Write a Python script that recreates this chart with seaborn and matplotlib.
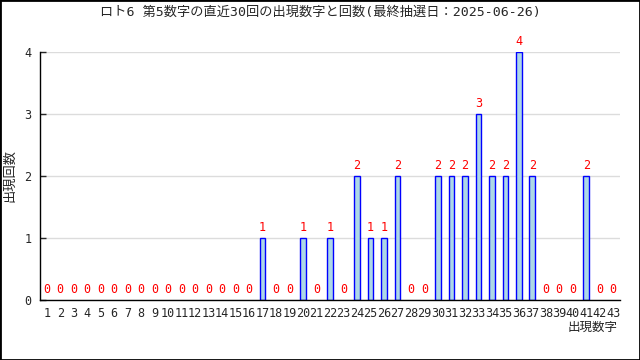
import matplotlib
matplotlib.use("Agg")
import matplotlib.pyplot as plt
import seaborn as sns
import numpy as np
from matplotlib.patches import Rectangle

# ロト6 第5数字 直近30回の出現回数
numbers = [str(n) for n in range(1, 44)]
counts = [0, 0, 0, 0, 0, 0, 0, 0, 0, 0, 0, 0, 0, 0, 0, 0,
          1, 0, 0, 1, 0, 1, 0, 2, 1, 1, 2, 0, 0, 2, 2, 2,
          3, 2, 2, 4, 2, 0, 0, 0, 2, 0, 0]
title = "ロト6 第5数字の直近30回の出現数字と回数(最終抽選日：2025-06-26)"

sns.set_style("white")
plt.rcParams["font.family"] = ["DejaVu Sans Mono", "Noto Sans CJK JP"]
jp = ["DejaVu Sans Mono", "Noto Sans CJK JP"]

fig = plt.figure(figsize=(6.4, 3.6), dpi=100)
ax = fig.add_axes([40 / 640, 60 / 360, 580 / 640, 248 / 360])

sns.barplot(x=numbers, y=counts, ax=ax, color="#add8e6", edgecolor="#0000ff",
            linewidth=1, width=0.42, saturation=1)
# 0回のバーは描かない
for p in ax.patches:
    if p.get_height() == 0:
        p.set_visible(False)

for i, v in enumerate(counts):
    ax.annotate(str(v), (i, v), xytext=(0, 3), textcoords="offset points",
                ha="center", va="bottom", color="red", fontsize=8.5, clip_on=False)

ax.set_xlim(-0.5, len(numbers) - 0.5)
ax.set_ylim(0, 4)
ax.set_yticks([0, 1, 2, 3, 4])
ax.yaxis.grid(True, color="#dcdcdc", linewidth=1)
ax.set_axisbelow(True)

ax.set_xticks(np.arange(-0.5, len(numbers), 1.0), minor=True)
ax.tick_params(axis="x", which="major", length=0, labelsize=8.5, pad=5)
ax.tick_params(axis="x", which="minor", direction="in", length=4, width=1, color="black")
ax.tick_params(axis="y", direction="in", length=4, width=1, labelsize=8.5, pad=6, left=True)

for s in ["top", "right"]:
    ax.spines[s].set_visible(False)
for s in ["left", "bottom"]:
    ax.spines[s].set_color("black")
    ax.spines[s].set_linewidth(1)

ax.set_xlabel("")
ax.set_ylabel("")
fig.text(10 / 640, 1 - 176 / 360, "出現回数", family=jp, fontsize=9.5,
         rotation=90, ha="center", va="center")
fig.text(618 / 640, 1 - 327 / 360, "出現数字", family=jp, fontsize=9,
         ha="right", va="center")
fig.text(0.5, 1 - 12 / 360, title, family=jp, fontsize=9.5, ha="center", va="center")

fig.patches.append(Rectangle((0, 0), 1, 1, transform=fig.transFigure, fill=False,
                             edgecolor="black", linewidth=2))

fig.savefig("out.png", dpi=100)
